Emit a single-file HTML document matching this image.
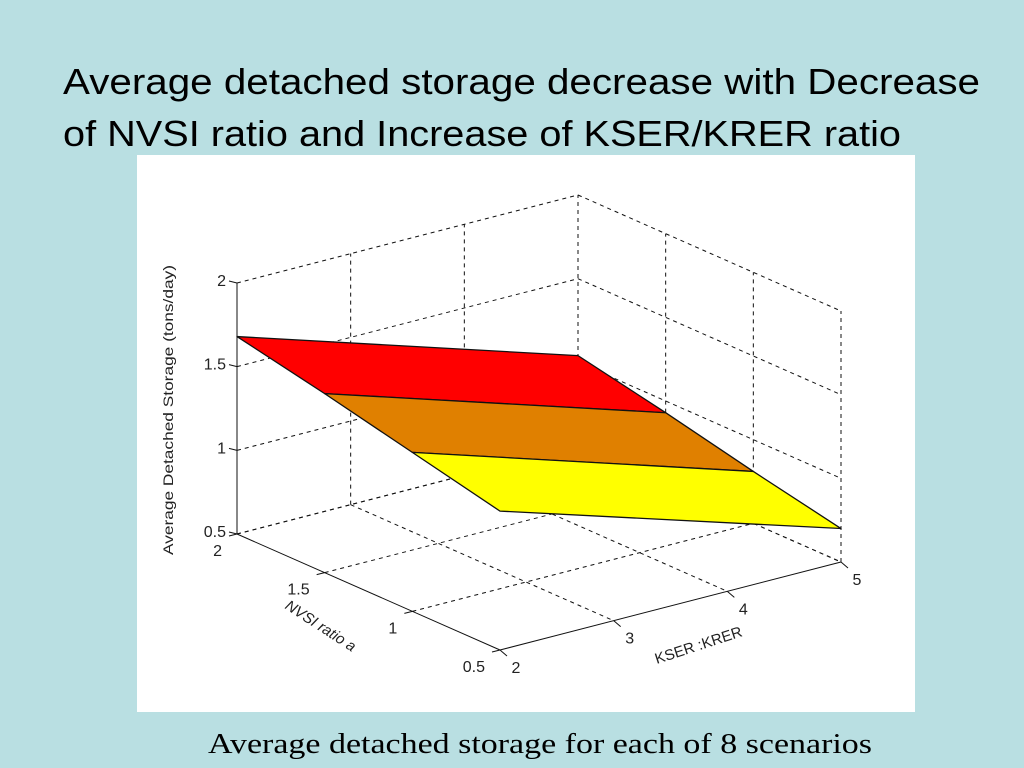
<!DOCTYPE html>
<html><head><meta charset="utf-8"><style>
html,body{margin:0;padding:0;background:#b9dfe2;}
svg{display:block;}
text{font-family:"Liberation Sans",sans-serif;}
</style></head><body>
<svg id="s" width="1024" height="768" viewBox="0 0 1024 768">
<rect x="0" y="0" width="1024" height="768" fill="#b9dfe2"/>
<text x="63" y="94" font-size="36" fill="#000" textLength="917" lengthAdjust="spacingAndGlyphs">Average detached storage  decrease with  Decrease</text>
<text x="63" y="146" font-size="36" fill="#000" textLength="838" lengthAdjust="spacingAndGlyphs">of NVSI ratio and Increase of KSER/KRER ratio</text>
<rect x="137" y="155" width="778" height="557" fill="#fff"/>
<g id="grid"></g>
<g id="axes"></g>
<g id="surf"></g>
<g id="ticks"></g>
<text transform="translate(173,410) rotate(-90)" text-anchor="middle" font-size="14" fill="#222" textLength="290" lengthAdjust="spacingAndGlyphs">Average Detached Storage (tons/day)</text>
<text transform="translate(318,630) rotate(33)" text-anchor="middle" font-size="15" fill="#222" font-style="italic">NVSI ratio a</text>
<text transform="translate(700,650) rotate(-18)" text-anchor="middle" font-size="15" fill="#222">KSER :KRER</text>
<text x="208" y="753" font-size="28" style="font-family:'Liberation Serif',serif" textLength="664" lengthAdjust="spacingAndGlyphs" fill="#000">Average detached storage for each of 8 scenarios</text>
</svg>
<script>
const nvsi = [2, 1.5, 1, 0.5];
const kser = [2, 5];
const zAtK2 = [1.68, 1.57, 1.45, 1.33];
const zAtK5 = [1.04, 0.93, 0.81, 0.70];
const bandColors = ['#ff0000', '#e08000', '#ffff00'];
const zTicks = [0.5, 1, 1.5, 2];
const nTicks = [2, 1.5, 1, 0.5];
const kTicks = [2, 3, 4, 5];
const zTickLabels = ['0.5', '1', '1.5', '2'];
const nTickLabels = ['2', '1.5', '1', '0.5'];
const kTickLabels = ['2', '3', '4', '5'];

const NS = 'http://www.w3.org/2000/svg';
const nMin = 0.5, nMax = 2, kMin = 2, kMax = 5, zMin = 0.5, zMax = 2;
function P(n, k, z) {
  const a = (nMax - n) / (nMax - nMin), b = (k - kMin) / (kMax - kMin);
  return [237 + a * 263 + b * 341, 534 + a * 116 - b * 88 - (z - zMin) / (zMax - zMin) * 251];
}
function line(g, p, q, dashed, name, w) {
  const l = document.createElementNS(NS, 'line');
  l.setAttribute('x1', p[0]); l.setAttribute('y1', p[1]);
  l.setAttribute('x2', q[0]); l.setAttribute('y2', q[1]);
  l.setAttribute('stroke', '#111');
  l.setAttribute('stroke-width', w || 1);
  if (dashed) l.setAttribute('stroke-dasharray', '4,4');
  
  
  g.appendChild(l);
}
function txt(g, x, y, s, name, anchor) {
  const t = document.createElementNS(NS, 'text');
  t.setAttribute('x', x); t.setAttribute('y', y);
  t.setAttribute('font-size', '16'); t.setAttribute('fill', '#222');
  t.setAttribute('text-anchor', anchor || 'middle');
  t.textContent = s;
  
  
  g.appendChild(t);
}
const grid = document.getElementById('grid');
kTicks.forEach(k => { if (k !== kMin) line(grid, P(nMax, k, zMin), P(nMax, k, zMax), true, 'grid-line-vertical'); });
zTicks.forEach(z => line(grid, P(nMax, kMin, z), P(nMax, kMax, z), true, 'grid-line-horizontal'));
nTicks.forEach(n => { if (n !== nMax) line(grid, P(n, kMax, zMin), P(n, kMax, zMax), true, 'grid-line-vertical'); });
zTicks.forEach(z => line(grid, P(nMax, kMax, z), P(nMin, kMax, z), true, 'grid-line-horizontal'));
kTicks.forEach(k => { if (k !== kMin) line(grid, P(nMax, k, zMin), P(nMin, k, zMin), true, 'floor-grid-line'); });
nTicks.forEach(n => { if (n !== nMin) line(grid, P(n, kMin, zMin), P(n, kMax, zMin), true, 'floor-grid-line'); });

const axes = document.getElementById('axes');
line(axes, P(nMax, kMin, zMin), P(nMax, kMin, zMax), false, 'z-axis-line');
line(axes, P(nMax, kMin, zMin), P(nMin, kMin, zMin), false, 'nvsi-axis-line');
line(axes, P(nMin, kMin, zMin), P(nMin, kMax, zMin), false, 'kser-axis-line');

const tk = document.getElementById('ticks');
zTicks.forEach((z, i) => {
  const p = P(nMax, kMin, z);
  line(axes, p, [p[0] - 8, p[1] - 2], false, 'z-tick');
  txt(tk, p[0] - 11, p[1] + 3, zTickLabels[i], 'z-tick-label', 'end');
});
nTicks.forEach((n, i) => {
  const p = P(n, kMin, zMin);
  line(axes, p, [p[0] - 8, p[1] + 2], false, 'nvsi-tick');
  txt(tk, p[0] - 15, p[1] + 22, nTickLabels[i], 'nvsi-tick-label', 'end');
});
kTicks.forEach((k, i) => {
  const p = P(nMin, k, zMin);
  line(axes, p, [p[0] + 7, p[1] + 6], false, 'kser-tick');
  txt(tk, p[0] + 16, p[1] + 23, kTickLabels[i], 'kser-tick-label');
});

const surf = document.getElementById('surf');
for (let i = 0; i < nvsi.length - 1; i++) {
  const pts = [P(nvsi[i], kser[0], zAtK2[i]), P(nvsi[i], kser[1], zAtK5[i]),
               P(nvsi[i + 1], kser[1], zAtK5[i + 1]), P(nvsi[i + 1], kser[0], zAtK2[i + 1])];
  const pg = document.createElementNS(NS, 'polygon');
  pg.setAttribute('points', pts.map(p => p.join(',')).join(' '));
  pg.setAttribute('fill', bandColors[i]);
  pg.setAttribute('stroke', '#111');
  pg.setAttribute('stroke-width', '1.3');
  pg.setAttribute('stroke-linejoin', 'round');
  
  
  surf.appendChild(pg);
}
</script>
</body></html>
